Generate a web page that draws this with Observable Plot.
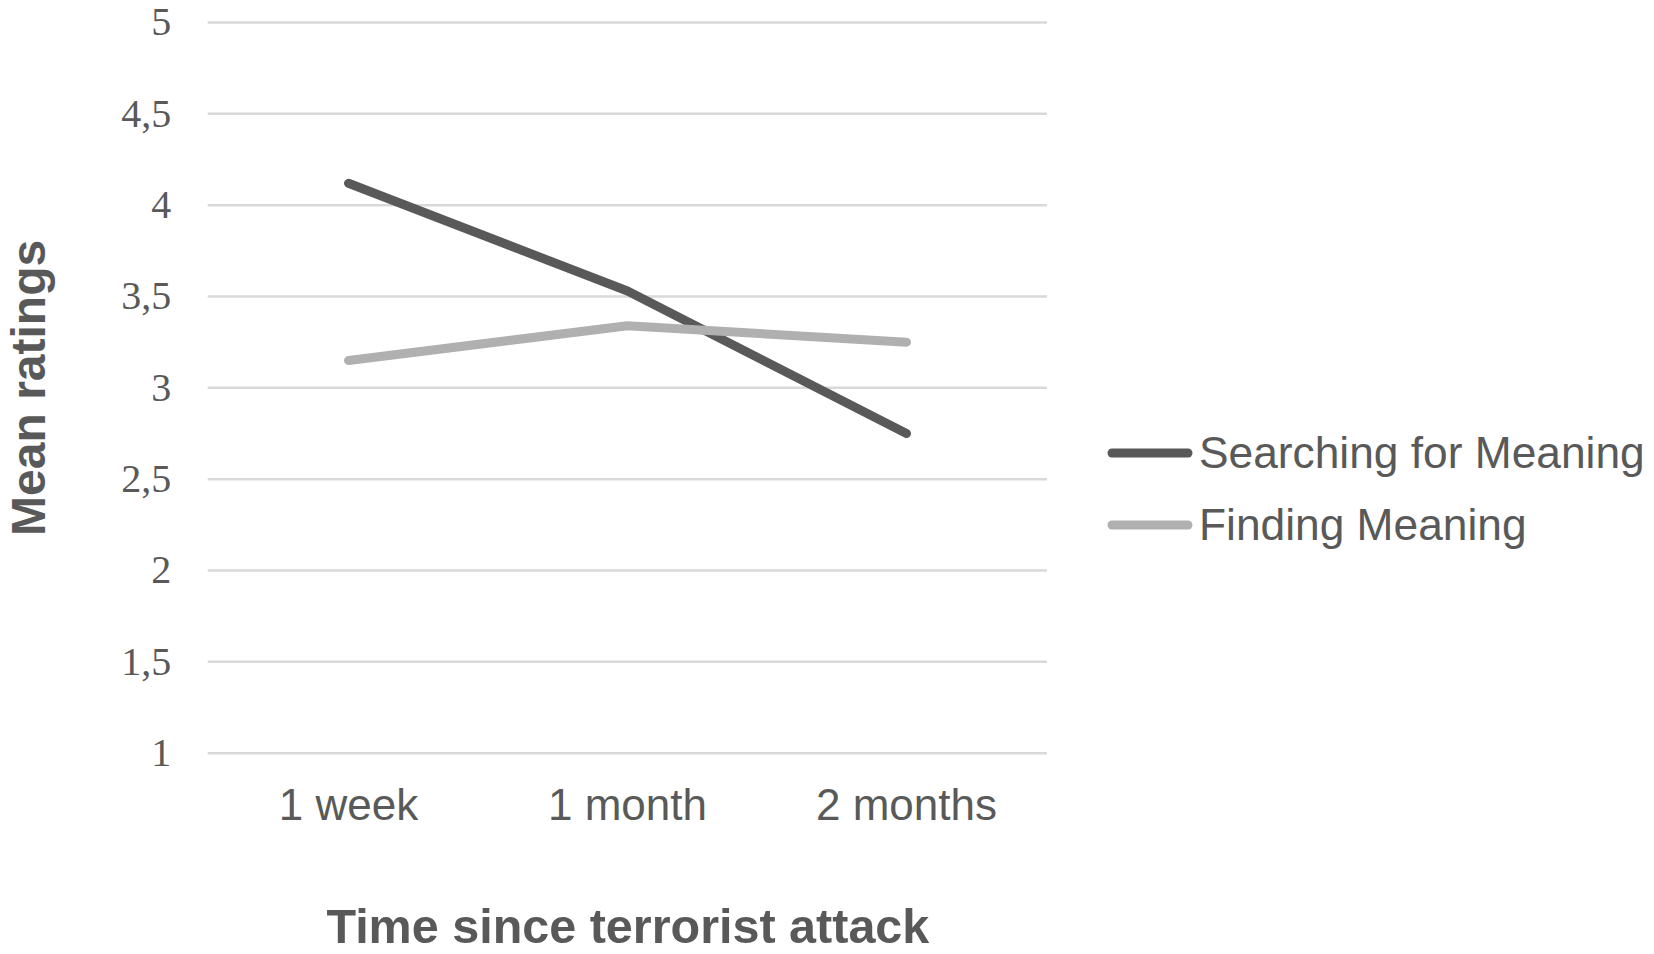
<!DOCTYPE html>
<html>
<head>
<meta charset="utf-8">
<script src="https://cdn.jsdelivr.net/npm/d3@7"></script>
<script src="https://cdn.jsdelivr.net/npm/@observablehq/plot@0.6"></script>
<style>
  html, body { margin: 0; padding: 0; background: #fff; }
  #wrap { position: relative; width: 1654px; height: 954px; }
  #legend { position: absolute; left: 1107px; top: 0; font-family: "Liberation Sans", Arial, sans-serif; font-size: 44.3px; color: #595959; }
  .item { position: absolute; left: 0; display: flex; align-items: center; white-space: nowrap; }
  .item svg { display: block; margin-right: 6px; }
</style>
</head>
<body>
<div id="wrap"><div id="legend"></div></div>
<script>
const categories = ["1 week", "1 month", "2 months"];
const seriesNames = ["Searching for Meaning", "Finding Meaning"];
const searching = [4.12, 3.53, 2.75];
const finding = [3.15, 3.34, 3.25];
const seriesColors = ["#595959", "#b0b0b0"];
const yTicks = [1, 1.5, 2, 2.5, 3, 3.5, 4, 4.5, 5];
const yLabel = "Mean ratings";
const xLabel = "Time since terrorist attack";

const table = [];
[searching, finding].forEach((vals, s) => {
  vals.forEach((v, i) => table.push({series: seriesNames[s], time: categories[i], value: v}));
});

const chart = Plot.plot({
  width: 1654,
  height: 954,
  marginLeft: 207.7,
  marginRight: 607,
  marginTop: 22,
  marginBottom: 201.3,
  style: {fontFamily: "Liberation Sans, Arial, sans-serif", color: "#595959", background: "#fff"},
  x: {type: "point", domain: categories, padding: 0.5},
  y: {domain: [1, 5]},
  color: {domain: seriesNames, range: seriesColors},
  marks: [
    Plot.ruleY(yTicks, {stroke: "#d9d9d9", strokeWidth: 2.5}),
    Plot.axisY({ticks: yTicks, tickSize: 0, tickPadding: 37, tickFormat: d => String(d).replace(".", ","),
      fontSize: 40, fontFamily: "Liberation Serif, Times New Roman, serif", fill: "#595959", label: null}),
    Plot.axisX({tickSize: 0, tickPadding: 36, fontSize: 44, fill: "#595959", label: null}),
    Plot.line(table, {x: "time", y: "value", z: "series", stroke: "series", strokeWidth: 9,
      strokeLinecap: "round", strokeLinejoin: "round"}),
    Plot.text([yLabel], {frameAnchor: "left", dx: -179, rotate: -90, fontSize: 48, fontWeight: "bold",
      fill: "#595959", textAnchor: "middle", lineAnchor: "middle"}),
    Plot.text([xLabel], {frameAnchor: "bottom", dy: 190, fontSize: 48.5, fontWeight: "bold",
      fill: "#595959", textAnchor: "middle", lineAnchor: "bottom"})
  ]
});
const wrap = document.getElementById("wrap");
wrap.insertBefore(chart, wrap.firstChild);

const legend = document.getElementById("legend");
const legendY = [453, 525];
seriesNames.forEach((name, i) => {
  const item = document.createElement("div");
  item.className = "item";
  item.style.top = (legendY[i] - 30) + "px";
  item.style.height = "60px";
  item.innerHTML = `<svg width="86" height="12"><line x1="5" y1="6" x2="81" y2="6" stroke="${seriesColors[i]}" stroke-width="9" stroke-linecap="round"/></svg><span>${name}</span>`;
  legend.appendChild(item);
});
</script>
</body>
</html>
